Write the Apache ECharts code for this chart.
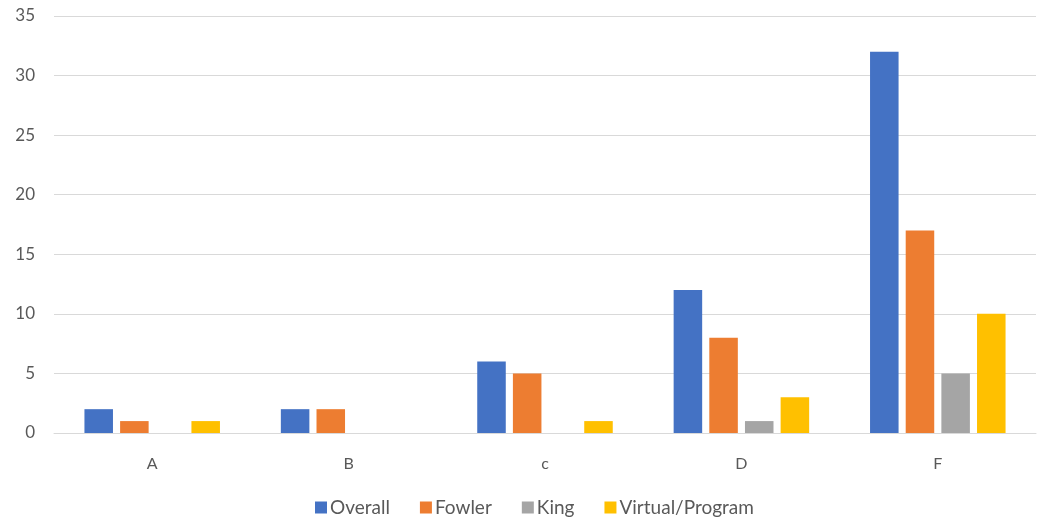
<!DOCTYPE html>
<html>
<head>
<meta charset="utf-8">
<script src="https://cdn.jsdelivr.net/npm/echarts@6/dist/echarts.min.js"></script>
<style>
  html, body { margin: 0; padding: 0; background: #fff; }
  #chart { width: 1039px; height: 522px; }
</style>
</head>
<body>
<div id="chart"></div>
<script>
// Grade distribution by campus
const categories = ['A', 'B', 'c', 'D', 'F'];
const overall = [2, 2, 6, 12, 32];
const fowler = [1, 2, 5, 8, 17];
const king = [0, 0, 0, 1, 5];
const virtualProgram = [1, 0, 1, 3, 10];
const yTicks = [0, 5, 10, 15, 20, 25, 30, 35];

const font = 'Lato, "Open Sans", sans-serif';
const textColor = '#595959';
const chart = echarts.init(document.getElementById('chart'));

function bar(name, data, color) {
  return {
    name: name,
    type: 'bar',
    data: data,
    itemStyle: { color: color },
    barGap: '25%',
    barCategoryGap: '31%'
  };
}

chart.setOption({
  animation: false,
  textStyle: { fontFamily: font },
  grid: { left: 54, right: 3, top: 16, bottom: 89, containLabel: false },
  legend: {
    bottom: 0,
    left: 310,
    itemWidth: 12,
    itemHeight: 12,
    itemGap: 30,
    icon: 'rect',
    textStyle: { color: textColor, fontSize: 19, fontFamily: font, padding: [0, 0, 0, -2] },
    data: ['Overall', 'Fowler', 'King', 'Virtual/Program']
  },
  xAxis: {
    type: 'category',
    data: categories,
    axisLine: { lineStyle: { color: '#d9d9d9' } },
    axisTick: { show: false },
    axisLabel: { color: textColor, fontSize: 16, margin: 23, fontFamily: font }
  },
  yAxis: {
    type: 'value',
    min: yTicks[0],
    max: yTicks[yTicks.length - 1],
    interval: 5,
    axisLine: { show: false },
    axisTick: { show: false },
    axisLabel: { color: textColor, fontSize: 17, margin: 19, fontFamily: font },
    splitLine: { lineStyle: { color: '#d9d9d9' } }
  },
  series: [
    bar('Overall', overall, '#4472C4'),
    bar('Fowler', fowler, '#ED7D31'),
    bar('King', king, '#A5A5A5'),
    bar('Virtual/Program', virtualProgram, '#FFC000')
  ]
});
</script>
</body>
</html>
